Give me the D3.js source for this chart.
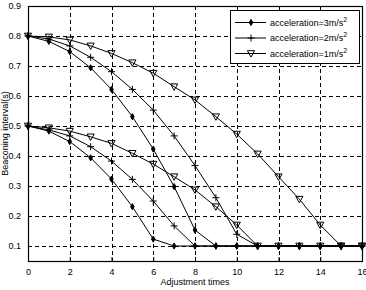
<!DOCTYPE html>
<html>
<head>
<meta charset="utf-8">
<script src="https://cdn.jsdelivr.net/npm/d3@7"></script>
<style>
  body { margin: 0; background: #fff; }
  text { font-family: "Liberation Sans", Arial, sans-serif; }
</style>
</head>
<body>
<svg id="chart" width="366" height="290"></svg>
<script>
// adjustment index, 0..16
var steps = d3.range(0, 17);

// beaconing interval (s), starting at 0.8
var acc3High = [0.8, 0.782, 0.748, 0.694, 0.622, 0.531, 0.423, 0.298, 0.153, 0.1, 0.1, 0.1, 0.1, 0.1, 0.1, 0.1, 0.1];
var acc2High = [0.8, 0.79, 0.767, 0.729, 0.681, 0.622, 0.553, 0.467, 0.368, 0.261, 0.139, 0.1, 0.1, 0.1, 0.1, 0.1, 0.1];
var acc1High = [0.8, 0.797, 0.787, 0.767, 0.742, 0.711, 0.676, 0.631, 0.587, 0.531, 0.473, 0.407, 0.331, 0.256, 0.17, 0.1, 0.1];

// starting at 0.5
var acc3Low = [0.5, 0.483, 0.448, 0.394, 0.323, 0.231, 0.123, 0.1, 0.1, 0.1, 0.1, 0.1, 0.1, 0.1, 0.1, 0.1, 0.1];
var acc2Low = [0.5, 0.487, 0.467, 0.431, 0.383, 0.322, 0.25, 0.167, 0.1, 0.1, 0.1, 0.1, 0.1, 0.1, 0.1, 0.1, 0.1];
var acc1Low = [0.5, 0.494, 0.483, 0.464, 0.442, 0.409, 0.373, 0.331, 0.287, 0.231, 0.17, 0.1, 0.1, 0.1, 0.1, 0.1, 0.1];

var xTicks = [0, 2, 4, 6, 8, 10, 12, 14, 16];
var yTicks = [0.1, 0.2, 0.3, 0.4, 0.5, 0.6, 0.7, 0.8, 0.9];
var legendLabels = ['acceleration=3m/s', 'acceleration=2m/s', 'acceleration=1m/s'];

var svg = d3.select('#chart');
var padL = 28, padR = 362, padT = 6, padB = 261;

var x = d3.scaleLinear().domain([0, 16]).range([padL, padR]);
var y = d3.scaleLinear().domain([0.05, 0.9]).range([padB, padT]);

// marker shapes
var markers = {
	dot: { d: d3.symbol().type(d3.symbolDiamond).size(11)(), fill: '#000' },
	plus: { d: 'M-3.5,0H3.5M0,-3.5V3.5', fill: 'none' },
	tri: { d: 'M-3.6,-2.8L3.6,-2.8L0,3.6Z', fill: 'none' }
};

var series = [
	{ v: acc1High, m: 'tri' }, { v: acc1Low, m: 'tri' },
	{ v: acc2High, m: 'plus' }, { v: acc2Low, m: 'plus' },
	{ v: acc3High, m: 'dot' }, { v: acc3Low, m: 'dot' }
];

// grid
var grid = svg.append('g').attr('stroke', '#000').attr('stroke-width', 1)
	.attr('stroke-dasharray', '4,3');
xTicks.slice(1, -1).forEach(function(t) {
	grid.append('line').attr('x1', Math.round(x(t)) + 0.5).attr('x2', Math.round(x(t)) + 0.5)
		.attr('y1', padT).attr('y2', padB);
});
yTicks.slice(0, -1).forEach(function(t) {
	grid.append('line').attr('y1', Math.round(y(t)) + 0.5).attr('y2', Math.round(y(t)) + 0.5)
		.attr('x1', padL).attr('x2', padR);
});

// axes (inward ticks, MATLAB style)
var xAxis = svg.append('g').attr('transform', 'translate(0,' + padB + ')')
	.call(d3.axisBottom(x).tickValues(xTicks).tickSize(-4).tickPadding(8).tickFormat(d3.format('d')));
var yAxis = svg.append('g').attr('transform', 'translate(' + padL + ',0)')
	.call(d3.axisLeft(y).tickValues(yTicks).tickSize(-4).tickPadding(7).tickFormat(d3.format('.1f')));
[xAxis, yAxis].forEach(function(a) {
	a.select('.domain').remove();
	a.selectAll('text').attr('font-size', 9).attr('font-family', '"Liberation Sans", Arial, sans-serif').attr('fill', '#000');
	a.selectAll('line').attr('stroke', '#000');
});

// lines and markers
var line = d3.line().x(function(d, i) { return x(steps[i]); }).y(function(d) { return y(d); });
series.forEach(function(s) {
	svg.append('path').datum(s.v).attr('d', line)
		.attr('fill', 'none').attr('stroke', '#000').attr('stroke-width', 1);
	svg.append('g').selectAll('path').data(s.v).join('path')
		.attr('transform', function(d, i) { return 'translate(' + x(steps[i]) + ',' + y(d) + ')'; })
		.attr('d', markers[s.m].d)
		.attr('fill', markers[s.m].fill)
		.attr('stroke', '#000').attr('stroke-width', 1);
});

// frame
svg.append('rect').attr('x', padL + 0.5).attr('y', padT + 0.5)
	.attr('width', padR - padL).attr('height', padB - padT)
	.attr('fill', 'none').attr('stroke', '#000').attr('stroke-width', 1.2);

// axis titles
svg.append('text').attr('x', (padL + padR) / 2).attr('y', 285)
	.attr('text-anchor', 'middle').attr('font-size', 9).text('Adjustment times');
svg.append('text').attr('transform', 'translate(8,' + (padT + padB) / 2 + ') rotate(-90)')
	.attr('text-anchor', 'middle').attr('font-size', 9).text('Beaconing interval(s)');

// legend
var lg = svg.append('g');
lg.append('rect').attr('x', 230.5).attr('y', 10.5).attr('width', 129).attr('height', 53)
	.attr('fill', '#fff').attr('stroke', '#000').attr('stroke-width', 1);
['dot', 'plus', 'tri'].forEach(function(m, i) {
	var ly = 22.5 + i * 15.5;
	lg.append('line').attr('x1', 235).attr('x2', 266).attr('y1', ly).attr('y2', ly)
		.attr('stroke', '#000');
	lg.append('path').attr('transform', 'translate(251,' + ly + ')').attr('d', markers[m].d)
		.attr('fill', markers[m].fill).attr('stroke', '#000');
	var t = lg.append('text').attr('x', 270).attr('y', ly + 3).attr('font-size', 9);
	t.append('tspan').text(legendLabels[i]);
	t.append('tspan').attr('dy', -4).attr('font-size', 7).text('2');
});
</script>
</body>
</html>
